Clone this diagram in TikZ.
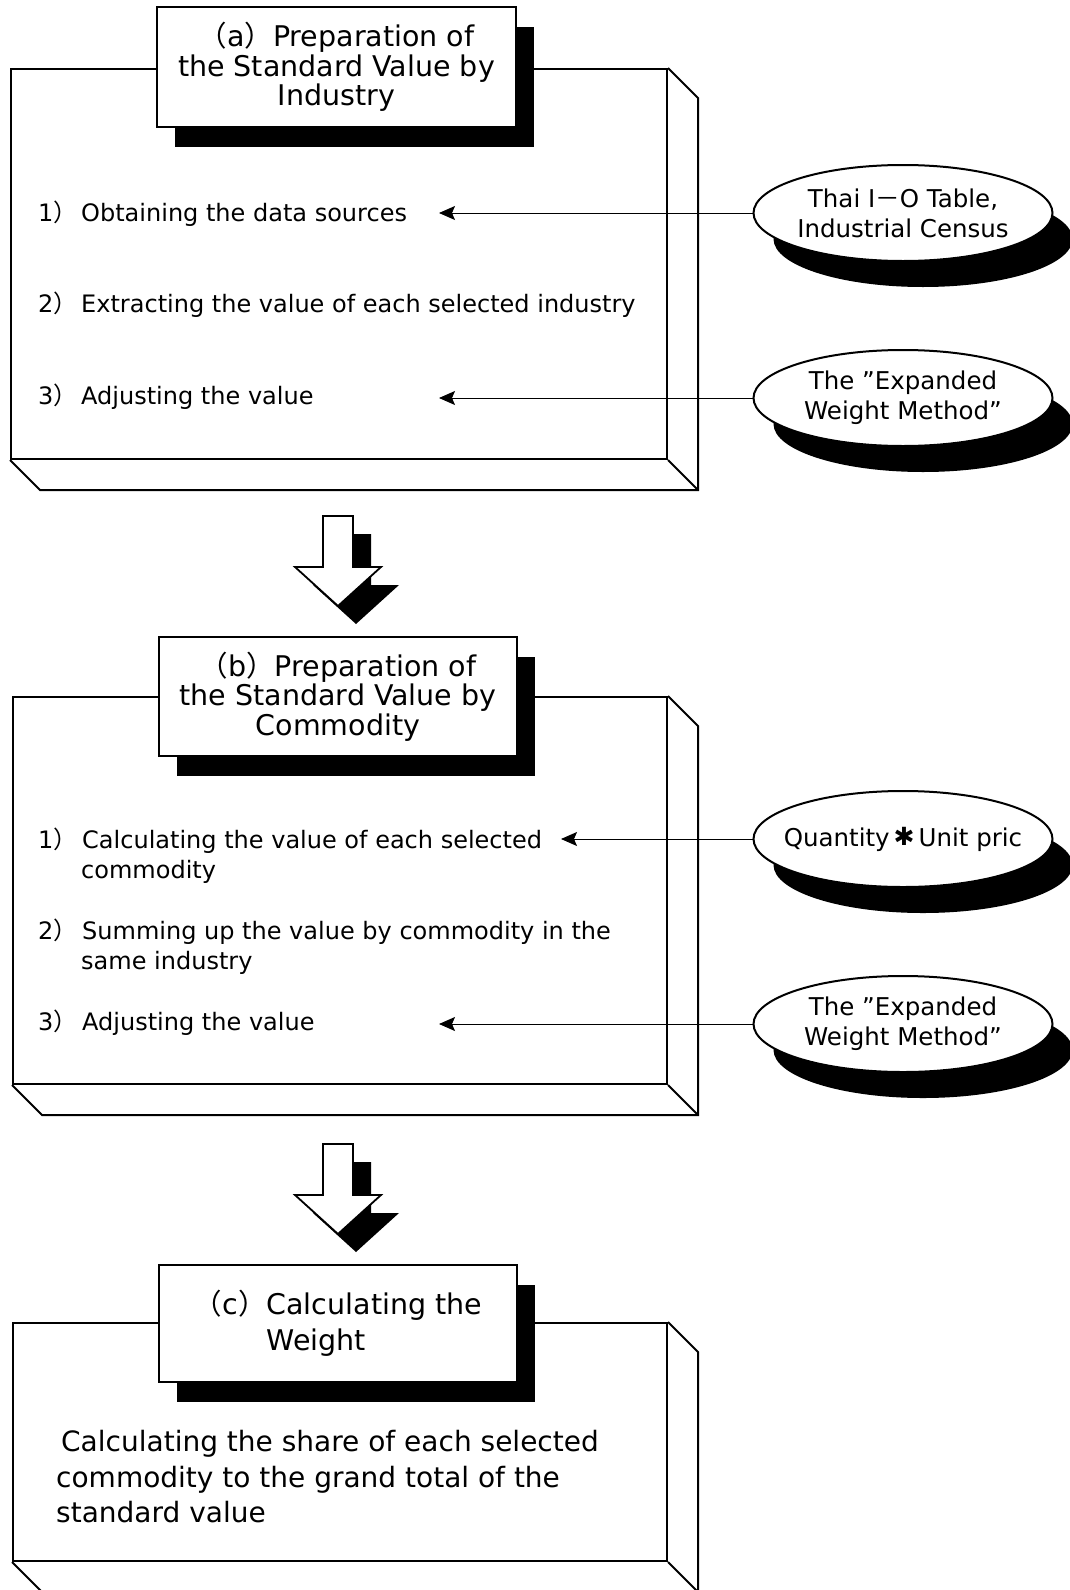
\documentclass[tikz,border=0pt]{standalone}
\usepackage{fontspec}
\setmainfont{DejaVu Sans}
\newfontfamily\cjk{Noto Sans CJK JP}
\usetikzlibrary{shapes.geometric,arrows.meta,shadows,calc}
\newcommand{\zlp}{{\cjk （}}
\newcommand{\zrp}{{\cjk ）}}
\newcommand{\zdash}{{\cjk －}}
\newcommand{\zast}{\hspace{4pt}\raisebox{1pt}{\fontsize{25}{25}\selectfont ✱}\hspace{4pt}}
\tikzset{
  edge/.style={line width=2pt, line join=miter},
  frontbox/.style={draw, line width=2pt, fill=white, inner sep=0pt, anchor=north west},
  titlebox/.style={draw, line width=2pt, fill=white, inner sep=0pt, align=center,
    font=\fontsize{28.5}{29.5}\selectfont,
    drop shadow={shadow xshift=18pt, shadow yshift=-20pt, fill=black, opacity=1}},
  ellip/.style={ellipse, draw, line width=2pt, fill=white, inner sep=0pt,
    minimum width=299pt, minimum height=96pt,
    drop shadow={shadow xshift=20pt, shadow yshift=-26pt, fill=black, opacity=1}},
  etext/.style={align=center, inner sep=0pt, font=\fontsize{24.5}{30}\selectfont},
  item/.style={anchor=base west, inner sep=0pt, font=\fontsize{24}{29}\selectfont},
  body/.style={anchor=base west, inner sep=0pt, font=\fontsize{28}{35}\selectfont},
  conn/.style={line width=1pt, -{Stealth[length=16pt,width=14pt,inset=3pt]}},
  blockarrow/.pic={
    \fill[black, shift={(18,18)}] (-15,0) -- (15,0) -- (15,51) -- (43,51) -- (0,90) -- (-43,51) -- (-15,51) -- cycle;
    \draw[line width=1.8pt, fill=white, line join=miter] (-15,0) -- (15,0) -- (15,51) -- (43,51) -- (0,90) -- (-43,51) -- (-15,51) -- cycle;
  }
}
\begin{document}
\begin{tikzpicture}[x=1pt,y=-1pt]
\useasboundingbox (0,0) rectangle (1069,1590);
\fill[white] (0,0) rectangle (1069,1590);

% ---------- box (a)
\node[frontbox, minimum width=656pt, minimum height=390pt] (fa) at (10,68) {};
\draw[edge] (fa.north east) -- ++(30,30) -- ($(fa.south east)+(30,30)$) -- ($(fa.south west)+(30,30)$) -- (fa.south west);
\draw[edge] (fa.south east) -- ++(30,30);
\node[titlebox, minimum width=359pt, minimum height=120pt] (ta) at (336.5,67)
  {\zlp a\zrp Preparation of\\the Standard Value by\\Industry};

\node[item] (a1n) at (38,221.7) {1\zrp};
\node[item] (a1t) at (81,221.7) {Obtaining the data sources};
\node[item] (a2n) at (38,312.8) {2\zrp};
\node[item] (a2t) at (81,312.8) {Extracting the value of each selected industry};
\node[item] (a3n) at (38,404.7) {3\zrp};
\node[item] (a3t) at (81,404.7) {Adjusting the value};

\node[ellip] (e1) at (903,213) {};
\node[etext] (e1t) at (e1.center) {Thai I\zdash O Table,\\Industrial Census};
\node[ellip] (e2) at (903,398) {};
\node[etext] (e2t) at (e2.center) {The ”Expanded\\Weight Method”};
\coordinate (a1e) at (439,213);
\coordinate (a3e) at (439,398);
\draw[conn] (e1.west) -- (a1e);
\draw[conn] (e2.west) -- (a3e);

% ---------- arrow 1
\pic (arr1) at (338,516) {blockarrow};

% ---------- box (b)
\node[frontbox, minimum width=654pt, minimum height=387pt] (fb) at (12,696) {};
\draw[edge] (fb.north east) -- ++(30,30) -- ($(fb.south east)+(30,30)$) -- ($(fb.south west)+(30,30)$) -- (fb.south west);
\draw[edge] (fb.south east) -- ++(30,30);
\node[titlebox, minimum width=358pt, minimum height=119pt] (tb) at (338,696.5)
  {\zlp b\zrp Preparation of\\the Standard Value by\\Commodity};

\node[item] (b1n) at (38,848.7) {1\zrp};
\node[item] (b1t) at (82,848.7) {Calculating the value of each selected};
\node[item] (b1u) at (81,878.7) {commodity};
\node[item] (b2n) at (38,939.7) {2\zrp};
\node[item] (b2t) at (82,939.7) {Summing up the value by commodity in the};
\node[item] (b2u) at (81,969.7) {same industry};
\node[item] (b3n) at (38,1030.7) {3\zrp};
\node[item] (b3t) at (82,1030.7) {Adjusting the value};

\node[ellip] (e3) at (903,839) {};
\node[etext] (e3t) at (e3.center) {Quantity\zast Unit pric};
\node[ellip] (e4) at (903,1024) {};
\node[etext] (e4t) at (e4.center) {The ”Expanded\\Weight Method”};
\coordinate (b1e) at (561,839);
\coordinate (b3e) at (439,1024);
\draw[conn] (e3.west) -- (b1e);
\draw[conn] (e4.west) -- (b3e);

% ---------- arrow 2
\pic (arr2) at (338,1144) {blockarrow};

% ---------- box (c)
\node[frontbox, minimum width=654pt, minimum height=238pt] (fc) at (12,1322) {};
\draw[edge] (fc.north east) -- ++(30,30) -- ($(fc.south east)+(30,30)$) -- ($(fc.south west)+(30,30)$) -- (fc.south west);
\draw[edge] (fc.south east) -- ++(30,30);
\node[titlebox, align=left, font=\fontsize{28.5}{36}\selectfont, minimum width=358pt, minimum height=117pt] (tc) at (338,1323.5)
  {\zlp c\zrp Calculating the\\\phantom{\zlp c\zrp}Weight};

\node[body] (c1) at (61,1451) {Calculating the share of each selected};
\node[body] (c2) at (56,1487) {commodity to the grand total of the};
\node[body] (c3) at (56,1522) {standard value};
\end{tikzpicture}
\end{document}
